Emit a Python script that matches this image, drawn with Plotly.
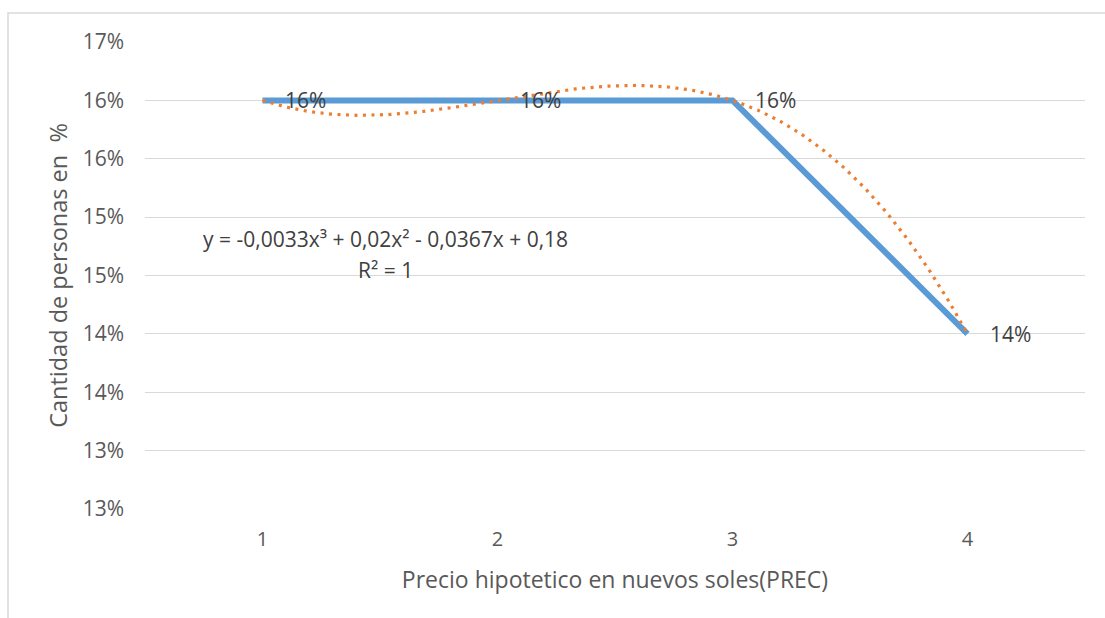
import numpy as np
import plotly.graph_objects as go

categories = [1, 2, 3, 4]
values = [0.16, 0.16, 0.16, 0.14]
data_labels = ["16%", "16%", "16%", "14%"]
y_tickvals = [0.125, 0.13, 0.135, 0.14, 0.145, 0.15, 0.155, 0.16, 0.165]
y_ticktext = ["13%", "13%", "14%", "14%", "15%", "15%", "16%", "16%", "17%"]
equation_text = "y = -0,0033x³ + 0,02x² - 0,0367x + 0,18"
r2_text = "R² = 1"
x_title = "Precio hipotetico en nuevos soles(PREC)"
y_title = "Cantidad de personas en  %"

FONT = "Open Sans"
BLUE = "#5B9BD5"
ORANGE = "#ED7D31"
GRID = "#D9D9D9"
TICK = "#595959"

# polynomial (order 3) trendline fitted to the series
coef = np.polyfit(categories, values, 3)
xs = np.linspace(categories[0], categories[-1], 300)
ys = np.polyval(coef, xs)

fig = go.Figure()
fig.add_trace(go.Scatter(x=categories, y=values, mode="lines",
                         line=dict(color=BLUE, width=6),
                         showlegend=False))
fig.add_trace(go.Scatter(x=xs, y=ys, mode="lines",
                         line=dict(color=ORANGE, width=3.2, dash="3px,5.5px"),
                         hoverinfo="skip", showlegend=False))

for xv, yv, t in zip(categories, values, data_labels):
    fig.add_annotation(x=xv, y=yv, text=t, showarrow=False, xanchor="left",
                       yanchor="middle", xshift=20,
                       font=dict(family=FONT, size=21, color="#404040"))

fig.add_annotation(x=0.5, y=0.1481, xref="x", yref="y", text=equation_text,
                   showarrow=False, xanchor="center", yanchor="middle",
                   xshift=240, font=dict(family=FONT, size=21, color="#404040"))
fig.add_annotation(x=0.5, y=0.1455, xref="x", yref="y", text=r2_text,
                   showarrow=False, xanchor="center", yanchor="middle",
                   xshift=240, font=dict(family=FONT, size=21, color="#404040"))

fig.update_layout(
    width=1105, height=618,
    margin=dict(l=145, r=20, t=42, b=109),
    paper_bgcolor="white", plot_bgcolor="white",
    font=dict(family=FONT, color=TICK),
    xaxis=dict(range=[0.5, 4.5], tickvals=categories, ticktext=[str(c) for c in categories],
               showgrid=False, zeroline=False, showline=False, ticks="",
               ticklabelstandoff=16,
               tickfont=dict(size=20, color=TICK),
               title=dict(text=x_title, font=dict(size=23, color=TICK), standoff=20)),
    yaxis=dict(range=[0.125, 0.165], tickvals=y_tickvals, ticktext=y_ticktext,
               showgrid=True, gridcolor=GRID, gridwidth=1, zeroline=False, showline=False,
               ticks="", ticklabelstandoff=20, tickfont=dict(size=21, color=TICK),
               title=dict(text=y_title, font=dict(size=23.5, color=TICK), standoff=8)),
    shapes=[dict(type="rect", xref="paper", yref="paper",
                 x0=(8 - 145) / 940, x1=(1115 - 145) / 940,
                 y0=(509 - 630) / 467, y1=1 + (42 - 13) / 467,
                 line=dict(color=GRID, width=1.5), fillcolor="rgba(0,0,0,0)", layer="below")],
)

fig.write_html("out.html")
